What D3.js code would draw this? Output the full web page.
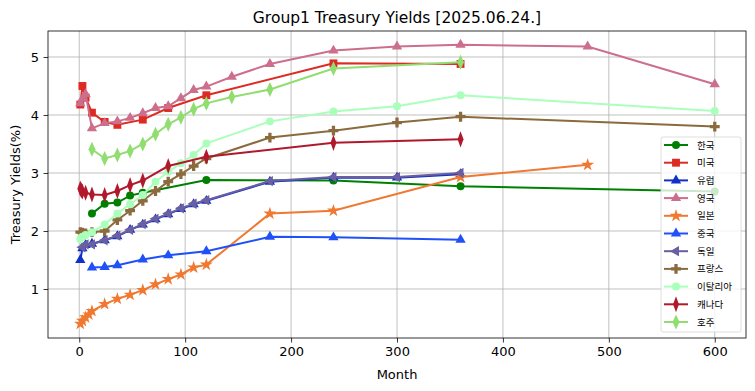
<!DOCTYPE html>
<html>
<head>
<meta charset="utf-8">
<script src="https://cdn.jsdelivr.net/npm/d3@7"></script>
<style>
  body { margin: 0; background: #fff; }
  text { font-family: "DejaVu Sans", "Noto Sans CJK KR", sans-serif; }
</style>
</head>
<body>
<svg id="chart" width="755" height="391"></svg>
<script>
// series names, in legend order
var names = ["한국", "미국", "유럽", "영국", "일본", "중국", "독일", "프랑스", "이탈리아", "캐나다", "호주"];

// months (x) and yields (y) per series
var koreaMonths = [12, 24, 36, 48, 60, 120, 240, 360, 600];
var koreaYields = [2.30, 2.47, 2.49, 2.61, 2.66, 2.88, 2.87, 2.77, 2.68];

var usMonths = [1, 3, 6, 12, 24, 36, 60, 84, 120, 240, 360];
var usYields = [4.18, 4.50, 4.30, 4.04, 3.88, 3.83, 3.92, 4.12, 4.34, 4.89, 4.88];

var euMonths = [1, 3, 6, 12, 24, 36, 48, 60, 72, 84, 96, 108, 120, 180, 240, 300, 360];
var euYields = [1.50, 1.70, 1.76, 1.78, 1.84, 1.91, 2.02, 2.11, 2.20, 2.29, 2.38, 2.46, 2.52, 2.85, 2.92, 2.92, 2.98];

var ukMonths = [1, 3, 6, 12, 24, 36, 48, 60, 72, 84, 96, 108, 120, 144, 180, 240, 300, 360, 480, 600];
var ukYields = [4.20, 4.28, 4.36, 3.77, 3.86, 3.89, 3.95, 4.03, 4.12, 4.15, 4.29, 4.43, 4.49, 4.66, 4.88, 5.11, 5.18, 5.21, 5.18, 4.53];

var japanMonths = [1, 3, 6, 9, 12, 24, 36, 48, 60, 72, 84, 96, 108, 120, 180, 240, 360, 480];
var japanYields = [0.40, 0.45, 0.51, 0.56, 0.62, 0.74, 0.83, 0.90, 0.98, 1.08, 1.17, 1.25, 1.37, 1.42, 2.30, 2.35, 2.93, 3.14];

var chinaMonths = [12, 24, 36, 60, 84, 120, 180, 240, 360];
var chinaYields = [1.37, 1.38, 1.41, 1.51, 1.58, 1.65, 1.90, 1.89, 1.85];

var germanyMonths = [3, 6, 12, 24, 36, 48, 60, 72, 84, 96, 108, 120, 180, 240, 300, 360];
var germanyYields = [1.72, 1.77, 1.77, 1.84, 1.92, 2.02, 2.12, 2.21, 2.30, 2.39, 2.47, 2.53, 2.86, 2.93, 2.93, 3.00];

var franceMonths = [1, 3, 6, 12, 24, 36, 48, 60, 72, 84, 96, 108, 120, 180, 240, 300, 360, 600];
var franceYields = [1.98, 1.97, 1.96, 1.98, 2.00, 2.19, 2.35, 2.52, 2.69, 2.85, 2.98, 3.12, 3.25, 3.61, 3.73, 3.87, 3.97, 3.80];

var italyMonths = [1, 3, 6, 12, 24, 36, 48, 60, 72, 84, 96, 108, 120, 180, 240, 300, 360, 600];
var italyYields = [1.86, 1.90, 1.93, 1.98, 2.11, 2.30, 2.46, 2.62, 2.85, 3.02, 3.17, 3.31, 3.51, 3.89, 4.06, 4.15, 4.34, 4.07];

var canadaMonths = [1, 2, 3, 6, 12, 24, 36, 48, 60, 84, 120, 240, 360];
var canadaYields = [2.73, 2.70, 2.68, 2.66, 2.63, 2.62, 2.69, 2.79, 2.87, 3.12, 3.28, 3.52, 3.58];

var australiaMonths = [12, 24, 36, 48, 60, 72, 84, 96, 108, 120, 144, 180, 240, 360];
var australiaYields = [3.41, 3.25, 3.31, 3.38, 3.50, 3.67, 3.84, 3.96, 4.10, 4.20, 4.31, 4.44, 4.80, 4.91];

var xTicks = [0, 100, 200, 300, 400, 500, 600];
var yTicks = [1, 2, 3, 4, 5];

var allMonths = [koreaMonths, usMonths, euMonths, ukMonths, japanMonths, chinaMonths,
                 germanyMonths, franceMonths, italyMonths, canadaMonths, australiaMonths];
var allYields = [koreaYields, usYields, euYields, ukYields, japanYields, chinaYields,
                 germanyYields, franceYields, italyYields, canadaYields, australiaYields];

var colors = ["#008000", "#dd2a22", "#1030c8", "#cc6e8c", "#f07830", "#2050f8",
              "#6a5fa0", "#8b6b3d", "#aaffbb", "#b0192c", "#90dd70"];
var shapes = ["circle", "square", "triangle", "triangle", "star", "triangle",
              "left", "plus", "circle", "thin", "diamond"];

var series = names.map(function(n, i) {
    return {
        name: n, color: colors[i], shape: shapes[i],
        points: allMonths[i].map(function(m, j) { return [m, allYields[i][j]]; })
    };
});

var margin = { left: 48, right: 9, top: 31, bottom: 53 };
var W = 755, H = 391;

var svg = d3.select("#chart");

var x = d3.scaleLinear().domain([-29.5, 629.5]).range([margin.left, W - margin.right]);
var y = d3.scaleLinear().domain([0.155, 5.448]).range([H - margin.bottom, margin.top]);

// grid
svg.append("g").selectAll("line").data(xTicks).enter().append("line")
    .attr("x1", function(d) { return x(d); }).attr("x2", function(d) { return x(d); })
    .attr("y1", margin.top).attr("y2", H - margin.bottom)
    .attr("stroke", "#b0b0b0").attr("stroke-width", 0.8);
svg.append("g").selectAll("line").data(yTicks).enter().append("line")
    .attr("y1", function(d) { return y(d); }).attr("y2", function(d) { return y(d); })
    .attr("x1", margin.left).attr("x2", W - margin.right)
    .attr("stroke", "#b0b0b0").attr("stroke-width", 0.8);

function markerPath(shape) {
    var sym = d3.symbol();
    if (shape == "circle") return sym.type(d3.symbolCircle).size(50)();
    if (shape == "square") return sym.type(d3.symbolSquare).size(62)();
    if (shape == "triangle") return sym.type(d3.symbolTriangle).size(46)();
    if (shape == "left") return sym.type(d3.symbolTriangle).size(46)();
    if (shape == "star") return sym.type(d3.symbolStar).size(52)();
    if (shape == "plus") return sym.type(d3.symbolCross).size(54)();
    if (shape == "thin") return sym.type(d3.symbolDiamond).size(62)();
    if (shape == "diamond") return sym.type(d3.symbolDiamond).size(58)();
}
function markerTransform(shape, px, py) {
    var t = "translate(" + px + "," + py + ")";
    if (shape == "left") t += " rotate(-90)";
    if (shape == "thin") t += " scale(0.7,1.1)";
    if (shape == "diamond") t += " scale(0.85,1.05)";
    return t;
}

var line = d3.line()
    .x(function(d) { return x(d[0]); })
    .y(function(d) { return y(d[1]); });

var plot = svg.append("g");
series.forEach(function(s) {
    var g = plot.append("g");
    g.append("path")
        .attr("d", line(s.points))
        .attr("fill", "none")
        .attr("stroke", s.color)
        .attr("stroke-width", 2);
    g.selectAll("path.m").data(s.points).enter().append("path")
        .attr("class", "m")
        .attr("d", markerPath(s.shape))
        .attr("transform", function(d) { return markerTransform(s.shape, x(d[0]), y(d[1])); })
        .attr("fill", s.color);
});

// axes
var xAxis = svg.append("g")
    .attr("transform", "translate(0," + (H - margin.bottom) + ")")
    .call(d3.axisBottom(x).tickValues(xTicks).tickSize(4.5).tickPadding(4.5));
var yAxis = svg.append("g")
    .attr("transform", "translate(" + margin.left + ",0)")
    .call(d3.axisLeft(y).tickValues(yTicks).tickFormat(d3.format("d")).tickSize(4.5).tickPadding(4.5));
[xAxis, yAxis].forEach(function(a) {
    a.select(".domain").remove();
    a.selectAll("text").attr("font-size", 13).attr("fill", "#000")
        .style("font-family", "DejaVu Sans");
    a.selectAll("line").attr("stroke", "#000").attr("stroke-width", 0.8);
});

// frame
svg.append("rect")
    .attr("x", margin.left).attr("y", margin.top)
    .attr("width", W - margin.left - margin.right)
    .attr("height", H - margin.top - margin.bottom)
    .attr("fill", "none").attr("stroke", "#000").attr("stroke-width", 0.8);

// labels
svg.append("text").attr("x", (margin.left + W - margin.right) / 2).attr("y", 23)
    .attr("text-anchor", "middle").attr("font-size", 15.5).text("Group1 Treasury Yields [2025.06.24.]");
svg.append("text").attr("x", (margin.left + W - margin.right) / 2).attr("y", 379)
    .attr("text-anchor", "middle").attr("font-size", 13).text("Month");
svg.append("text")
    .attr("transform", "translate(20," + ((margin.top + H - margin.bottom) / 2) + ") rotate(-90)")
    .attr("text-anchor", "middle").attr("font-size", 13).text("Treasury Yields(%)");

// legend
var lg = svg.append("g").attr("transform", "translate(661,137)");
lg.append("rect").attr("width", 80).attr("height", 195).attr("rx", 2)
    .attr("fill", "#fff").attr("fill-opacity", 0.8)
    .attr("stroke", "#d5d5d5").attr("stroke-width", 0.8);
series.forEach(function(s, i) {
    var ry = 8 + i * 17.7;
    lg.append("line").attr("x1", 3).attr("x2", 27).attr("y1", ry).attr("y2", ry)
        .attr("stroke", s.color).attr("stroke-width", 2);
    lg.append("path").attr("d", markerPath(s.shape))
        .attr("transform", markerTransform(s.shape, 15, ry)).attr("fill", s.color);
    lg.append("text").attr("x", 36).attr("y", ry + 3.5).attr("font-size", 9.5).text(s.name);
});
</script>
</body>
</html>
